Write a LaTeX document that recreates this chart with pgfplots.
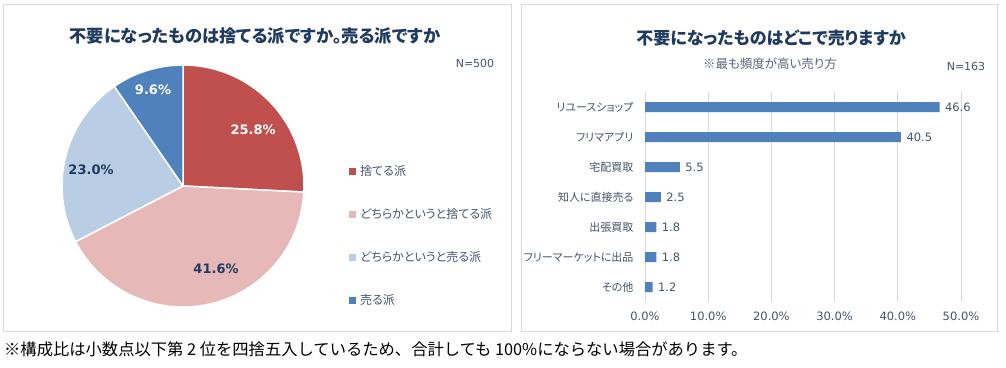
\documentclass[border=0pt]{standalone}
\usepackage{fontspec}
\setmainfont{Noto Sans CJK JP}
\newfontfamily\jp[RawFeature=+palt]{Noto Sans CJK JP}
\newfontfamily\num{DejaVu Sans}
\usepackage{pgfplots}
\pgfplotsset{compat=1.18}
\definecolor{cRed}{HTML}{C0504D}
\definecolor{cPink}{HTML}{E6B9B8}
\definecolor{cLBlue}{HTML}{B9CDE5}
\definecolor{cBlue}{HTML}{4F81BD}
\definecolor{cTitle}{HTML}{1F3A60}
\definecolor{cLeg}{HTML}{44546A}
\definecolor{cSub}{HTML}{5A6478}
\definecolor{cGrid}{HTML}{D9D9D9}
\definecolor{cFrame}{HTML}{D9D9D9}
\begin{document}
\begin{tikzpicture}[x=1pt,y=1pt]
\useasboundingbox (0,0) rectangle (1006,367);
\draw[cFrame, line width=1pt] (3,36) rectangle (511,362);
\draw[cFrame, line width=1pt] (521,36) rectangle (997,362);

% ---- titles
\node[font=\jp\bfseries\fontsize{17.3}{19}\selectfont, text=cTitle] at (255,331) {不要になったものは捨てる派ですか。売る派ですか};
\node[font=\num\fontsize{11}{12}\selectfont, text=cLeg] at (475,304) {N=500};
\node[font=\jp\bfseries\fontsize{17}{19}\selectfont, text=cTitle] at (771,329) {不要になったものはどこで売りますか};
\node[font=\jp\fontsize{12.5}{14}\selectfont, text=cSub] at (770,303) {※最も頻度が高い売り方};
\node[font=\num\fontsize{11}{12}\selectfont, text=cLeg] at (966,301) {N=163};

% ---- pie
\begin{axis}[at={(183pt,181pt)}, anchor=center, scale only axis,
  width=242pt, height=242pt, xmin=-1, xmax=1, ymin=-1, ymax=1,
  hide axis, clip=false,
  legend image code/.code={\fill[#1, draw=none] (0pt,-3.5pt) rectangle (7pt,3.5pt); \path[draw=none, fill=none] (0pt,0pt) -- (9pt,0pt);},
  legend cell align=left,
  legend style={at={(axis cs:1.372,0.185)}, anchor=north west, draw=none, fill=none,
    inner sep=0pt, row sep=27.2pt, font=\jp\fontsize{12}{13}\selectfont, text=cLeg,
    /tikz/every even column/.append style={column sep=0pt}},
]
\fill[cRed, draw=white, line width=1.5pt, line join=round] (axis cs:0,0) -- ++(90:121pt)
  arc[start angle=90, delta angle=-3.6*25.8, radius=121pt] -- cycle;
\fill[cPink, draw=white, line width=1.5pt, line join=round] (axis cs:0,0) -- ++({90-3.6*25.8}:121pt)
  arc[start angle={90-3.6*25.8}, delta angle=-3.6*41.6, radius=121pt] -- cycle;
\fill[cLBlue, draw=white, line width=1.5pt, line join=round] (axis cs:0,0) -- ++({90-3.6*(25.8+41.6)}:121pt)
  arc[start angle={90-3.6*(25.8+41.6)}, delta angle=-3.6*23.0, radius=121pt] -- cycle;
\fill[cBlue, draw=white, line width=1.5pt, line join=round] (axis cs:0,0) -- ++({90-3.6*(25.8+41.6+23.0)}:121pt)
  arc[start angle={90-3.6*(25.8+41.6+23.0)}, delta angle=-3.6*9.6, radius=121pt] -- cycle;
\node[font=\num\bfseries\fontsize{13}{14}\selectfont, text=white] at (axis cs:0.579,0.463) {25.8\%};
\node[font=\num\bfseries\fontsize{13}{14}\selectfont, text=cTitle] at (axis cs:0.273,-0.686) {41.6\%};
\node[font=\num\bfseries\fontsize{13}{14}\selectfont, text=cTitle] at (axis cs:-0.760,0.132) {23.0\%};
\node[font=\num\bfseries\fontsize{13}{14}\selectfont, text=white] at (axis cs:-0.248,0.793) {9.6\%};
\addlegendimage{fill=cRed}\addlegendentry{捨てる派}
\addlegendimage{fill=cPink}\addlegendentry{どちらかというと捨てる派}
\addlegendimage{fill=cLBlue}\addlegendentry{どちらかというと売る派}
\addlegendimage{fill=cBlue}\addlegendentry{売る派}
\end{axis}

% ---- bars
\begin{axis}[at={(645pt,65pt)}, anchor=south west, scale only axis,
  width=316pt, height=210pt, xbar, bar width=10pt,
  xmin=0, xmax=50, ymin=-0.5, ymax=6.5, y dir=reverse,
  xtick={0,10,20,30,40,50},
  xticklabels={0.0\%,10.0\%,20.0\%,30.0\%,40.0\%,50.0\%},
  ytick={0,1,2,3,4,5,6},
  yticklabels={リユースショップ,フリマアプリ,宅配買取,知人に直接売る,出張買取,フリーマーケットに出品,その他},
  xmajorgrids, grid style={color=cGrid, line width=0.8pt},
  axis line style={draw=none}, major tick length=0pt, tick style={draw=none},
  tick label style={text=cLeg},
  xticklabel style={font=\num\fontsize{11.5}{12}\selectfont, yshift=-6pt},
  yticklabel style={font=\jp\fontsize{11}{12}\selectfont, xshift=-8pt},
  point meta=x,
  nodes near coords={\pgfmathprintnumber[fixed,fixed zerofill,precision=1]{\pgfplotspointmeta}},
  nodes near coords style={font=\num\fontsize{11.5}{12}\selectfont, text=cLeg,
    /pgf/number format/assume math mode=true, xshift=2pt},
  clip=false]
\addplot[fill=cBlue, draw=none] coordinates {(46.6,0) (40.5,1) (5.5,2) (2.5,3) (1.8,4) (1.8,5) (1.2,6)};
\end{axis}

% ---- footnote
\node[anchor=west, font=\fontsize{16.3}{18}\selectfont, inner sep=0pt] at (4,18) {※構成比は小数点以下第 2 位を四捨五入しているため、合計しても 100\%にならない場合があります。};
\end{tikzpicture}
\end{document}
